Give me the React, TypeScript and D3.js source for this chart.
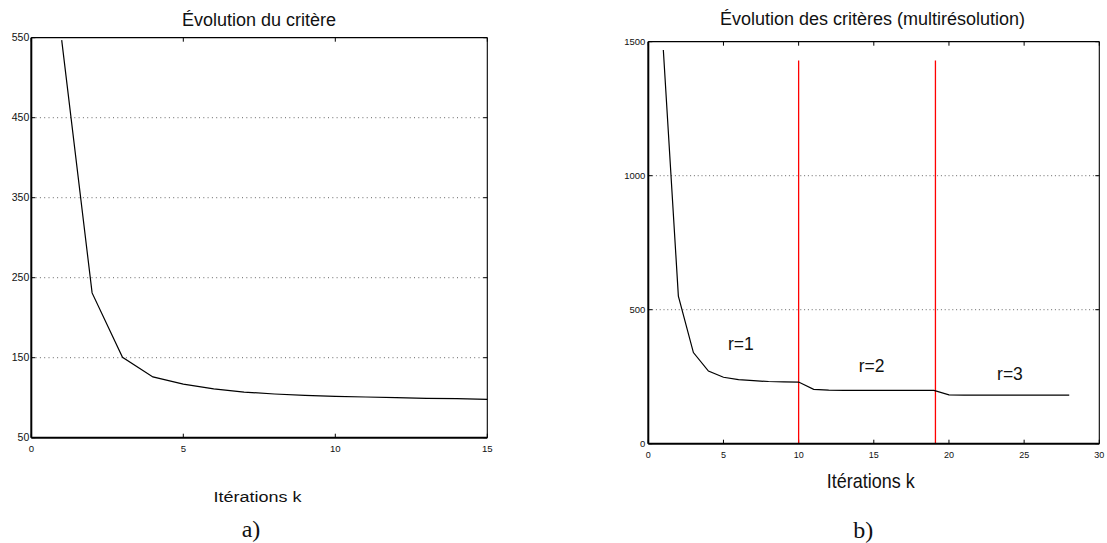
import React from 'react';
import * as d3 from 'd3';

// ---- data: panel a) ----
const iterA = [1, 2, 3, 4, 5, 6, 7, 8, 9, 10, 11, 12, 13, 14, 15];
const critA = [547, 231, 150.5, 126, 117, 111, 107, 104.6, 103, 101.7, 100.9, 100, 99.2, 98.8, 98];
const xTicksA = [0, 5, 10, 15];
const yTicksA = [50, 150, 250, 350, 450, 550];
const gridA = [150, 250, 350, 450];

// ---- data: panel b) ----
const iterB = [1, 2, 3, 4, 5, 6, 7, 8, 9, 10, 11, 12, 13, 14, 15, 16, 17, 18, 19, 20, 21, 22, 23, 24, 25, 26, 27, 28];
const critB = [1469, 551, 340, 271, 248, 239, 235, 232, 231, 230, 203, 200, 199, 199, 199, 199, 199, 199, 199, 182, 181, 181, 181, 181, 181, 181, 181, 181];
const xTicksB = [0, 5, 10, 15, 20, 25, 30];
const yTicksB = [0, 500, 1000, 1500];
const gridB = [500, 1000];
const separatorsB = [10, 19.1];
const separatorTop = 1430;
const resLabels = ['r=1', 'r=2', 'r=3'];
const resLabelX = [5.3, 14.0, 23.2];
const resLabelY = [350, 266, 238];

const SANS = '"Liberation Sans", Arial, Helvetica, sans-serif';
const SERIF = '"Liberation Serif", "DejaVu Serif", serif';

export default function App() {
  // panel a scales
  const xA = d3.scaleLinear().domain([0, 15]).range([31.3, 487.3]);
  const yA = d3.scaleLinear().domain([50, 550]).range([437.7, 37.7]);
  // panel b scales
  const xB = d3.scaleLinear().domain([0, 30]).range([648.3, 1099.3]);
  const yB = d3.scaleLinear().domain([0, 1500]).range([443.7, 41.7]);

  const lineA = d3.line<number>().x((_, i) => xA(iterA[i])).y((d) => yA(d))(critA) || '';
  const lineB = d3.line<number>().x((_, i) => xB(iterB[i])).y((d) => yB(d))(critB) || '';

  const frame = (x0: number, x1: number, y0: number, y1: number) => (
    <g>
      <line x1={x0} x2={x1} y1={y0} y2={y0} stroke="#000" strokeWidth={1.3} />
      <line x1={x1} x2={x1} y1={y0} y2={y1} stroke="#000" strokeWidth={1.1} />
      <line x1={x0} x2={x1} y1={y1} y2={y1} stroke="#000" strokeWidth={2} />
      <line x1={x0} x2={x0} y1={y0} y2={y1} stroke="#000" strokeWidth={2} />
    </g>
  );

  const [ax0, ax1] = xA.range();
  const [ay1, ay0] = yA.range();
  const [bx0, bx1] = xB.range();
  const [by1, by0] = yB.range();

  return (
    <svg width={1107} height={543} style={{ position: 'absolute', left: 0, top: 0, background: '#fff' }}>
      <rect x={0} y={0} width={1107} height={543} fill="#fff" />

      {/* ===== panel a ===== */}
      <text x={259} y={26} textAnchor="middle" fontFamily={SANS} fontSize={18} fill="#111">Évolution du critère</text>
      {gridA.map((v) => (
        <line key={'ga' + v} x1={ax0} x2={ax1} y1={yA(v)} y2={yA(v)} stroke="#666" strokeWidth={1} strokeDasharray="1,3.3" />
      ))}
      {yTicksA.map((v) => (
        <g key={'ya' + v}>
          <line x1={ax0} x2={ax0 + 4} y1={yA(v)} y2={yA(v)} stroke="#000" strokeWidth={1} />
          <line x1={ax1} x2={ax1 - 4} y1={yA(v)} y2={yA(v)} stroke="#000" strokeWidth={1} />
          <text x={ax0 - 2} y={yA(v)} dy="0.35em" textAnchor="end" fontFamily={SANS} fontSize={10.5} fill="#111">{v}</text>
        </g>
      ))}
      {xTicksA.map((v) => (
        <g key={'xa' + v}>
          <line x1={xA(v)} x2={xA(v)} y1={ay1} y2={ay1 - 4} stroke="#000" strokeWidth={1} />
          <line x1={xA(v)} x2={xA(v)} y1={ay0} y2={ay0 + 4} stroke="#000" strokeWidth={1} />
          <text x={xA(v)} y={ay1 + 14} textAnchor="middle" fontFamily={SANS} fontSize={9.6} fill="#111">{v}</text>
        </g>
      ))}
      <path d={lineA} fill="none" stroke="#000" strokeWidth={1.2} />
      {frame(ax0, ax1, ay0, ay1)}
      <text x={257.5} y={501.7} textAnchor="middle" fontFamily={SANS} fontSize={15.5} textLength={88} lengthAdjust="spacingAndGlyphs" fill="#111">Itérations k</text>
      <text x={251} y={537} textAnchor="middle" fontFamily={SERIF} fontSize={24} fill="#111">a)</text>

      {/* ===== panel b ===== */}
      <text x={872.5} y={25} textAnchor="middle" fontFamily={SANS} fontSize={18} fill="#111">Évolution des critères (multirésolution)</text>
      {gridB.map((v) => (
        <line key={'gb' + v} x1={bx0} x2={bx1} y1={yB(v)} y2={yB(v)} stroke="#666" strokeWidth={1} strokeDasharray="1,2.8" />
      ))}
      {yTicksB.map((v) => (
        <g key={'yb' + v}>
          <line x1={bx0} x2={bx0 + 4} y1={yB(v)} y2={yB(v)} stroke="#000" strokeWidth={1} />
          <line x1={bx1} x2={bx1 - 4} y1={yB(v)} y2={yB(v)} stroke="#000" strokeWidth={1} />
          <text x={bx0 - 3} y={yB(v)} dy="0.35em" textAnchor="end" fontFamily={SANS} fontSize={9.5} fill="#111">{v}</text>
        </g>
      ))}
      {xTicksB.map((v) => (
        <g key={'xb' + v}>
          <line x1={xB(v)} x2={xB(v)} y1={by1} y2={by1 - 4} stroke="#000" strokeWidth={1} />
          <line x1={xB(v)} x2={xB(v)} y1={by0} y2={by0 + 4} stroke="#000" strokeWidth={1} />
          <text x={xB(v)} y={by1 + 14.5} textAnchor="middle" fontFamily={SANS} fontSize={9} fill="#111">{v}</text>
        </g>
      ))}
      {separatorsB.map((s) => (
        <line key={'sep' + s} x1={xB(s)} x2={xB(s)} y1={yB(0)} y2={yB(separatorTop)} stroke="#ff0000" strokeWidth={1.3} />
      ))}
      <path d={lineB} fill="none" stroke="#000" strokeWidth={1.2} />
      {resLabels.map((t, i) => (
        <text key={t} x={xB(resLabelX[i])} y={yB(resLabelY[i])} fontFamily={SANS} fontSize={17.5} fill="#111">{t}</text>
      ))}
      {frame(bx0, bx1, by0, by1)}
      <text x={870.8} y={488.3} textAnchor="middle" fontFamily={SANS} fontSize={21} textLength={88} lengthAdjust="spacingAndGlyphs" fill="#111">Itérations k</text>
      <text x={863.3} y={537.5} textAnchor="middle" fontFamily={SERIF} fontSize={24} fill="#111">b)</text>
    </svg>
  );
}
